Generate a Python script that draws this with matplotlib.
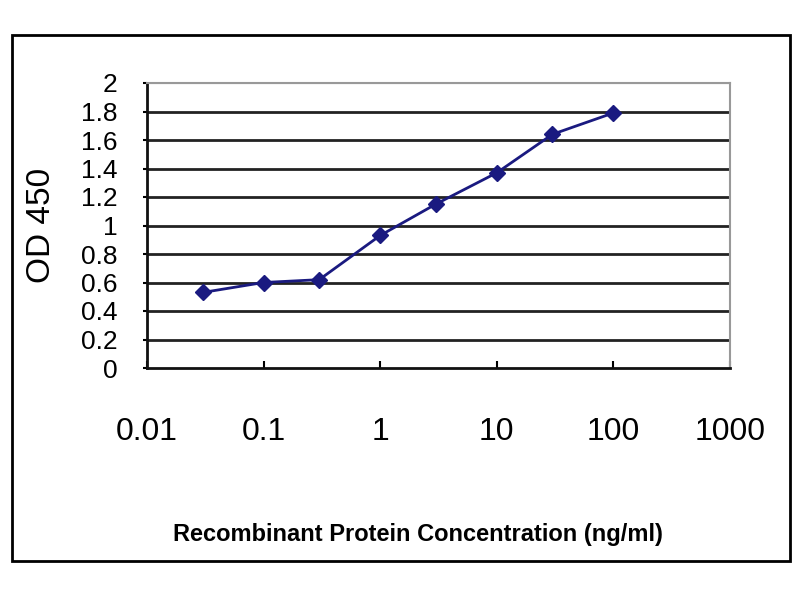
import matplotlib

matplotlib.use("Agg")

import matplotlib.pyplot as plt
from matplotlib.patches import Rectangle

# values
concentration = [0.03, 0.1, 0.3, 1, 3, 10, 30, 100]
od450 = [0.53, 0.60, 0.62, 0.93, 1.15, 1.37, 1.64, 1.79]
x_ticks = [0.01, 0.1, 1, 10, 100, 1000]
x_tick_labels = ["0.01", "0.1", "1", "10", "100", "1000"]
y_ticks = [0, 0.2, 0.4, 0.6, 0.8, 1, 1.2, 1.4, 1.6, 1.8, 2]
y_tick_labels = ["0", "0.2", "0.4", "0.6", "0.8", "1", "1.2", "1.4", "1.6", "1.8", "2"]

FONT = ["Liberation Sans", "DejaVu Sans"]
NAVY = "#1a1a80"


def main():
    fig = plt.figure(figsize=(8, 6), dpi=100)
    ax = fig.add_axes([147 / 800, 232 / 600, 583 / 800, 285 / 600])

    ax.set_xscale("log")
    ax.set_xlim(0.01, 1000)
    ax.set_ylim(0, 2)

    for y in y_ticks[1:-1]:
        ax.axhline(y, color="#222222", linewidth=2.0, zorder=1)
    ax.axhline(2, color="#999999", linewidth=1.5, zorder=1)

    ax.plot(concentration, od450, color=NAVY, linewidth=2.0, marker="D",
            markersize=8.5, markerfacecolor=NAVY, markeredgecolor=NAVY, zorder=3)

    ax.set_xticks(x_ticks)
    ax.set_xticklabels(x_tick_labels, fontsize=23, family=FONT)
    ax.minorticks_off()
    ax.tick_params(axis="x", direction="in", length=5, width=1.5, pad=35)
    ax.set_yticks(y_ticks)
    ax.set_yticklabels(y_tick_labels, fontsize=19, family=FONT)
    ax.tick_params(axis="y", direction="out", length=3, width=1.5, pad=18)

    ax.spines["left"].set_linewidth(2.0)
    ax.spines["bottom"].set_linewidth(2.0)
    ax.spines["left"].set_color("#111111")
    ax.spines["bottom"].set_color("#111111")
    ax.spines["top"].set_color("#999999")
    ax.spines["right"].set_color("#999999")
    ax.spines["top"].set_linewidth(1.5)
    ax.spines["right"].set_linewidth(1.5)

    fig.text(42 / 800, 1 - 225 / 600, "OD 450", rotation=90, ha="center", va="center",
             fontsize=24, family=FONT)
    fig.text(418 / 800, 1 - 535 / 600, "Recombinant Protein Concentration (ng/ml)",
             ha="center", va="center", fontsize=17, fontweight="bold", family=FONT)

    fig.patches.append(Rectangle((12 / 800, 1 - 561 / 600), 778 / 800, 526 / 600,
                                 transform=fig.transFigure, fill=False,
                                 edgecolor="black", linewidth=2.0))

    fig.savefig("out.png", dpi=100)
    plt.close(fig)


if __name__ == "__main__":
    main()
